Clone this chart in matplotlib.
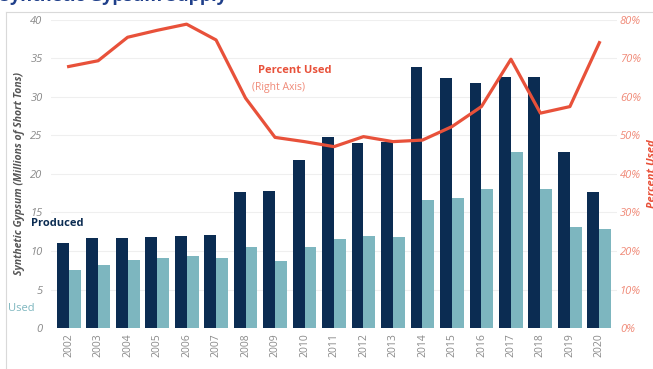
import matplotlib.pyplot as plt
import numpy as np
from matplotlib.ticker import FuncFormatter

anios = [str(a) for a in range(2002, 2021)]
producido = [11.1, 11.7, 11.7, 11.8, 11.9, 12.1, 17.6, 17.8, 21.8, 24.8,
             24.0, 24.2, 33.9, 32.4, 31.8, 32.6, 32.6, 22.8, 17.6]
usado = [7.5, 8.2, 8.8, 9.05, 9.4, 9.05, 10.5, 8.7, 10.5, 11.6,
         12.0, 11.8, 16.6, 16.9, 18.1, 22.9, 18.1, 13.1, 12.9]
porcentaje = [67.9, 69.4, 75.5, 77.3, 78.9, 74.8, 59.7, 49.5, 48.4, 47.1,
              49.7, 48.4, 48.8, 52.3, 57.5, 69.8, 55.8, 57.5, 74.1]

azul = '#0b2c52'
verde = '#7db6bf'
rojo = '#e8513a'
rojo_claro = '#f08a78'
gris = '#8a8a8a'

plt.rcParams['font.family'] = ['Open Sans', 'DejaVu Sans']

fig = plt.figure(figsize=(6.53, 3.69), dpi=100)
ax = fig.add_axes([0.078, 0.111, 0.867, 0.835])

x = np.arange(len(anios))
ancho = 0.405
ax.bar(x - ancho / 2, producido, ancho, color=azul, zorder=2)
ax.bar(x + ancho / 2, usado, ancho, color=verde, zorder=2)

ax.set_xlim(-0.6, len(anios) - 0.4)
ax.set_ylim(0, 40)
ax.set_yticks(range(0, 41, 5))
ax.grid(axis='y', color='#efefef', linewidth=0.8, zorder=0)
ax.set_xticks(x)
ax.set_xticklabels(anios, rotation=90, fontsize=7.5, color=gris)
ax.tick_params(axis='both', length=0)
ax.tick_params(axis='y', labelsize=8, labelcolor=gris, pad=6)
for t in ax.get_yticklabels():
    t.set_fontstyle('italic')
for s in ax.spines.values():
    s.set_visible(False)
ax.set_ylabel('Synthetic Gypsum (Millions of Short Tons)', fontsize=7.5,
              style='italic', fontweight='bold', color='#555555', labelpad=4)

ax2 = ax.twinx()
ax2.plot(x, porcentaje, color=rojo, linewidth=2.3, zorder=3)
ax2.set_ylim(0, 80)
ax2.set_yticks(range(0, 81, 10))
ax2.yaxis.set_major_formatter(FuncFormatter(lambda v, p: f'{int(v)}%'))
ax2.tick_params(axis='y', length=0, labelsize=8, labelcolor=rojo_claro, pad=2)
for t in ax2.get_yticklabels():
    t.set_fontstyle('italic')
for s in ax2.spines.values():
    s.set_visible(False)
ax2.set_ylabel('Percent Used', fontsize=8, style='italic', fontweight='bold',
               color=rojo, rotation=90, labelpad=4)

fig.text(0.452, 0.808, 'Percent Used', fontsize=8, fontweight='bold', color=rojo,
         ha='center', va='center')
fig.text(0.427, 0.764, '(Right Axis)', fontsize=7.5, color=rojo_claro,
         ha='center', va='center')
fig.text(0.047, 0.393, 'Produced', fontsize=8, fontweight='bold', color=azul,
         ha='left', va='center')
fig.text(0.012, 0.165, 'Used', fontsize=8, color=verde, ha='left', va='center')

# marco y titulo cortado
fig.add_artist(plt.Line2D([0.009, 1.0], [0.967, 0.967], color='#d9d9d9', linewidth=0.8))
fig.add_artist(plt.Line2D([0.009, 0.009], [0.0, 0.967], color='#d9d9d9', linewidth=0.8))
fig.text(0.0, 0.997, 'Synthetic Gypsum Supply', fontsize=13, fontweight='bold',
         color='#1f3f8a', ha='left', va='baseline')

fig.savefig('out.png', dpi=100)
